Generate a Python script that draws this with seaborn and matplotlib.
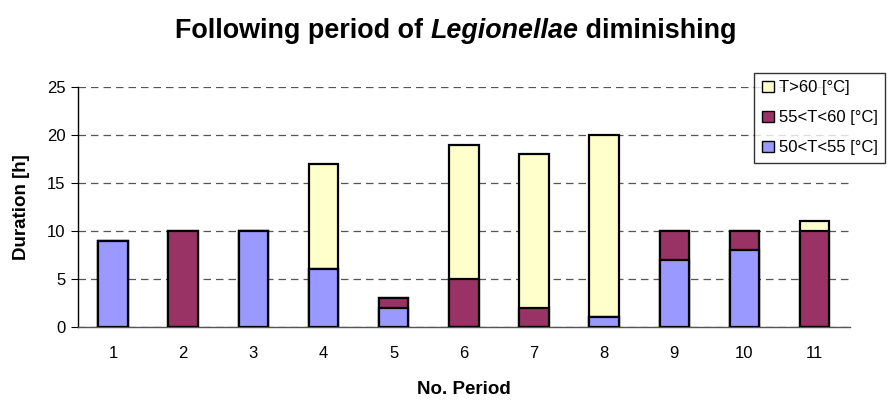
import pandas as pd
import seaborn as sns
import matplotlib.pyplot as plt
import numpy as np
from matplotlib.patches import Patch

# Data
periods = ["1", "2", "3", "4", "5", "6", "7", "8", "9", "10", "11"]
t_50_55 = [9, 0, 10, 6, 2, 0, 0, 1, 7, 8, 0]
t_55_60 = [0, 10, 0, 0, 1, 5, 2, 0, 3, 2, 10]
t_over_60 = [0, 0, 0, 11, 0, 14, 16, 19, 0, 0, 1]

labels = ["T>60 [°C]", "55<T<60 [°C]", "50<T<55 [°C]"]
colors = ["#FFFFCC", "#993366", "#9999FF"]

sns.set_style("white")
plt.rcParams['font.family'] = ['Liberation Sans', 'DejaVu Sans']
plt.rcParams['text.color'] = 'black'
plt.rcParams['axes.labelcolor'] = 'black'
plt.rcParams['xtick.color'] = 'black'
plt.rcParams['ytick.color'] = 'black'

df = pd.DataFrame({"period": periods, "a": t_50_55, "b": t_55_60, "c": t_over_60})
df["low"] = df["a"]
df["mid"] = df["a"] + df["b"]
df["top"] = df["a"] + df["b"] + df["c"]

fig = plt.figure(figsize=(8.88, 4.03), dpi=100)
ax = fig.add_axes([0.0878, 0.1886, 0.869, 0.5956])

# stacked bars: draw cumulative totals from the top down
for col, c in zip(["top", "mid", "low"], colors):
    sns.barplot(data=df, x="period", y=col, color=c, width=0.42,
                edgecolor="black", linewidth=1.6, saturation=1, ax=ax, zorder=3)

ax.set_ylim(0, 25)
ax.set_xlim(-0.5, 10.5)
ax.set_yticks([0, 5, 10, 15, 20, 25])
ax.yaxis.grid(True, linestyle=(0, (6, 4)), color="#555555", linewidth=0.9, zorder=0)
ax.xaxis.grid(False)
for s in ["top", "right"]:
    ax.spines[s].set_visible(False)
ax.spines["left"].set_color("black")
ax.spines["bottom"].set_color("#555555")
ax.spines["left"].set_linewidth(1.0)
ax.spines["bottom"].set_linewidth(1.0)

ax.set_xticks(np.arange(-0.5, 11, 1), minor=True)
ax.tick_params(axis="x", which="major", length=0, labelsize=12, pad=14)
ax.tick_params(axis="x", which="minor", length=5, color="#555555", direction="out")
ax.tick_params(axis="y", length=5, labelsize=12, direction="out", color="black", left=True, pad=4)

ax.set_xlabel("No. Period", fontsize=13.5, fontweight="bold", labelpad=14)
ax.set_ylabel("Duration [h]", fontsize=13.5, fontweight="bold", labelpad=12)

handles = [Patch(facecolor=c, edgecolor="black", linewidth=1.0) for c in colors]
leg = fig.legend(handles, labels, loc="upper right", bbox_to_anchor=(0.9985, 0.823),
                 fontsize=12, frameon=True, fancybox=False, edgecolor="black",
                 handlelength=0.7, handleheight=0.7, handletextpad=0.3,
                 labelspacing=0.9, borderpad=0.45, borderaxespad=0.1)
leg.get_frame().set_linewidth(1.0)

# title with italic genus name
fig.canvas.draw()
r = fig.canvas.get_renderer()
parts = [("Following period of ", "normal"), ("Legionellae", "italic"), (" diminishing", "normal")]
texts = [fig.text(0, 0.922, p, fontsize=19.4, fontweight="bold", style=st, va="center") for p, st in parts]
widths = [t.get_window_extent(r).width for t in texts]
x = 175
for t, w in zip(texts, widths):
    t.set_x(x / fig.bbox.width)
    x += w

fig.savefig("out.png", dpi=100)
